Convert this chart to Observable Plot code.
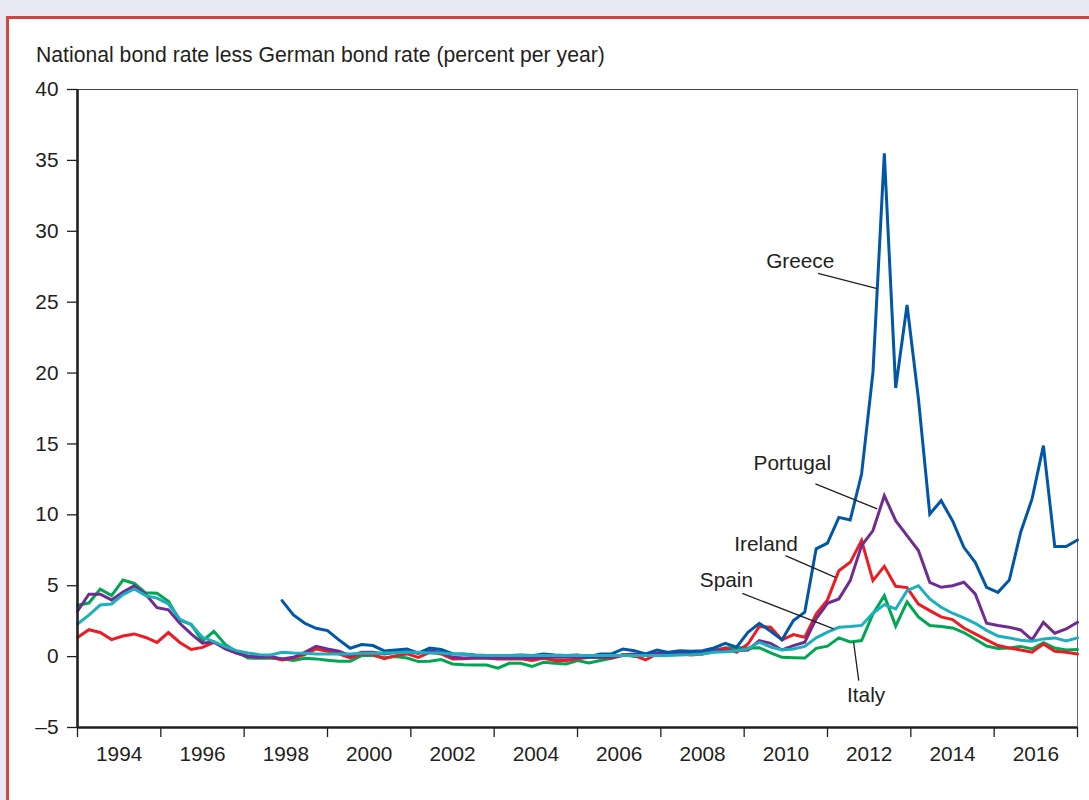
<!DOCTYPE html>
<html>
<head>
<meta charset="utf-8">
<script src="https://cdn.jsdelivr.net/npm/d3@7"></script>
<script src="https://cdn.jsdelivr.net/npm/@observablehq/plot@0.6"></script>
<style>
  html, body { margin: 0; padding: 0; background: #e8e8f2; width: 1089px; height: 800px; overflow: hidden; }
  #frame { position: absolute; left: 6px; top: 16px; width: 1200px; height: 900px; background: #fff; border: 3px solid #cf4541; box-sizing: border-box; }
  #title { position: absolute; left: 36px; top: 44px; font-family: 'Liberation Sans', Arial, sans-serif; font-size: 21.2px; line-height: 21px; color: #231f20; white-space: nowrap; }
  #chart { position: absolute; left: 0; top: 70px; }
</style>
</head>
<body>
<div id="frame"></div>
<div id="title">National bond rate less German bond rate (percent per year)</div>
<div id="chart"></div>
<script>
// Period index 0..88 (observations evenly spaced along the 1993–2017 axis)
const period = d3.range(89);

const greece = [
  null, null, null, null, null, null, null, null, null, null,
  null, null, null, null, null, null, null, null,
  3.95, 2.94, 2.35, 2.0, 1.84, 1.18, 0.59, 0.85, 0.78, 0.4,
  0.47, 0.54, 0.24, 0.61, 0.5, 0.2, 0.19, 0.12, 0.07, 0.07,
  0.07, 0.12, 0.07, 0.19, 0.12, 0.07, 0.12, 0.0, 0.19, 0.19,
  0.54, 0.42, 0.19, 0.47, 0.3, 0.42, 0.38, 0.42, 0.61, 0.94,
  0.66, 1.72, 2.35, 1.79, 1.18, 2.54, 3.13, 7.6, 8.0, 9.82,
  9.64, 12.88, 20.05, 35.5, 18.95, 24.8, 18.2, 10.06, 11.0, 9.59,
  7.71, 6.65, 4.89, 4.53, 5.4, 8.77, 11.12, 14.88, 7.76, 7.76,
  8.23
];
const ireland = [
  1.35, 1.9, 1.7, 1.2, 1.45, 1.6, 1.35, 1.0, 1.7, 1.0,
  0.5, 0.65, 1.0, 0.6, 0.25, 0.05, 0.0, -0.05, -0.23, -0.1,
  0.14, 0.54, 0.38, 0.2, -0.1, 0.17, 0.14, -0.14, 0.07, 0.19,
  -0.05, 0.3, 0.19, -0.16, -0.15, -0.1, -0.1, -0.16, -0.16, -0.16,
  -0.28, -0.12, -0.28, -0.28, -0.16, -0.05, -0.05, -0.1, 0.07, 0.07,
  -0.23, 0.19, 0.2, 0.2, 0.12, 0.19, 0.38, 0.61, 0.31, 0.89,
  2.12, 2.07, 1.18, 1.55, 1.36, 3.01, 4.0, 6.06, 6.65, 8.18,
  5.36, 6.37, 4.96, 4.87, 3.7, 3.24, 2.8, 2.61, 2.02, 1.6,
  1.18, 0.78, 0.61, 0.47, 0.31, 0.89, 0.38, 0.31, 0.19
];
const portugal = [
  3.2, 4.4, 4.4, 4.0, 4.55, 5.0, 4.4, 3.45, 3.3, 2.35,
  1.6, 0.95, 1.05, 0.55, 0.25, 0.0, -0.05, 0.0, -0.16, -0.05,
  0.3, 0.73, 0.54, 0.38, 0.07, 0.3, 0.3, 0.19, 0.3, 0.35,
  0.24, 0.42, 0.3, -0.05, -0.1, -0.08, -0.1, -0.1, -0.1, -0.1,
  -0.1, -0.05, -0.05, -0.05, -0.05, -0.05, -0.05, -0.02, 0.12, 0.19,
  0.14, 0.23, 0.24, 0.3, 0.26, 0.3, 0.47, 0.38, 0.42, 0.47,
  1.13, 0.94, 0.47, 0.78, 1.01, 2.66, 3.76, 4.07, 5.36, 7.83,
  8.89, 11.35, 9.59, 8.53, 7.48, 5.24, 4.89, 5.0, 5.24, 4.42,
  2.35, 2.19, 2.07, 1.88, 1.18, 2.42, 1.65, 1.95, 2.42
];
const spain = [
  2.3, 2.93, 3.64, 3.71, 4.37, 4.77, 4.3, 4.13, 3.71, 2.65,
  2.25, 1.36, 1.06, 0.7, 0.42, 0.26, 0.14, 0.12, 0.3, 0.25,
  0.23, 0.19, 0.19, 0.19, 0.19, 0.24, 0.24, 0.26, 0.28, 0.3,
  0.3, 0.26, 0.26, 0.19, 0.16, 0.1, 0.08, 0.07, 0.07, 0.07,
  0.07, 0.07, 0.07, 0.07, 0.07, 0.07, 0.07, 0.07, 0.07, 0.07,
  0.07, 0.07, 0.08, 0.12, 0.14, 0.19, 0.31, 0.35, 0.42, 0.55,
  1.01, 0.68, 0.47, 0.54, 0.72, 1.32, 1.72, 2.07, 2.12, 2.2,
  3.06, 3.67, 3.36, 4.65, 5.0, 4.07, 3.48, 3.06, 2.73, 2.35,
  1.85, 1.45, 1.32, 1.15, 1.08, 1.25, 1.32, 1.1, 1.32
];
const italy = [
  3.62, 3.78, 4.76, 4.3, 5.4, 5.16, 4.5, 4.47, 3.9, 2.56,
  2.28, 1.1, 1.78, 0.85, 0.35, -0.1, -0.12, -0.1, -0.16, -0.28,
  -0.12, -0.16, -0.25, -0.33, -0.33, 0.07, 0.07, -0.08, 0.0, -0.1,
  -0.35, -0.33, -0.21, -0.52, -0.58, -0.6, -0.59, -0.82, -0.47, -0.47,
  -0.7, -0.4, -0.47, -0.52, -0.28, -0.45, -0.28, -0.12, 0.14, 0.0,
  0.07, 0.19, 0.15, 0.17, 0.15, 0.2, 0.45, 0.6, 0.65, 0.61,
  0.63, 0.27, -0.05, -0.08, -0.1, 0.58, 0.74, 1.32, 1.04, 1.13,
  3.01, 4.3, 2.15, 3.86, 2.8, 2.19, 2.12, 2.02, 1.7, 1.22,
  0.75, 0.57, 0.61, 0.72, 0.54, 0.98, 0.6, 0.47, 0.5
];

const countries = ["Italy", "Ireland", "Portugal", "Greece", "Spain"];
const seriesValues = [italy, ireland, portugal, greece, spain];
const colors = ["#00a651", "#ed1c24", "#6f2c91", "#0057a8", "#1bb0bc"];

const tickYears = [1993, 1995, 1997, 1999, 2001, 2003, 2005, 2007, 2009, 2011, 2013, 2015, 2017];
const labelYears = [1994, 1996, 1998, 2000, 2002, 2004, 2006, 2008, 2010, 2012, 2014, 2016];
const yTicks = [-5, 0, 5, 10, 15, 20, 25, 30, 35, 40];

// Series labels and their leader lines (period index / percent)
const labelNames = ["Greece", "Portugal", "Ireland", "Spain", "Italy"];
const labelX = [63.6, 62.9, 60.6, 57.1, 69.4];
const labelY = [27.86, 13.65, 7.9, 5.36, -2.75];
const leadX1 = [65.17, 64.94, 62.3, 58.5, 68.75];
const leadY1 = [27.03, 12.18, 7.12, 4.46, -1.69];
const leadX2 = [70.37, 70.37, 66.7, 66.55, 68.3];
const leadY2 = [25.95, 10.42, 5.59, 1.95, 1.01];

// Build tables for Plot
const rows = [];
countries.forEach((c, k) => {
  period.forEach(p => rows.push({country: c, period: p, value: seriesValues[k][p]}));
});
const labels = labelNames.map((n, i) => ({name: n, x: labelX[i], y: labelY[i]}));
const leaders = labelNames.map((n, i) => ({x1: leadX1[i], y1: leadY1[i], x2: leadX2[i], y2: leadY2[i]}));

const yearToIndex = d3.scaleLinear([1993, 2017], [0, 88]);
const ink = "#231f20";

const chart = Plot.plot({
  width: 1089,
  height: 700,
  marginLeft: 77,
  marginRight: 12,
  marginTop: 19,
  marginBottom: 43,
  x: {domain: [0, 88], label: null},
  y: {domain: [-5, 40], label: null},
  color: {domain: countries, range: colors},
  style: {fontFamily: "'Liberation Sans', Arial, sans-serif", fontSize: "20.8px", color: ink, background: "transparent", overflow: "visible"},
  marks: [
    Plot.axisY(yTicks, {tickSize: 10, tickPadding: 9, stroke: ink, strokeWidth: 1.3, fill: ink,
      tickFormat: d => d < 0 ? "\u2013" + Math.abs(d) : String(d)}),
    Plot.axisX(tickYears.map(yearToIndex), {tickSize: 10, stroke: ink, strokeWidth: 1.3, tickFormat: () => ""}),
    Plot.axisX(labelYears.map(yearToIndex), {tickSize: 0, tickPadding: 19, fill: ink,
      tickFormat: d => String(Math.round(yearToIndex.invert(d)))}),
    Plot.ruleY([40], {stroke: "#444", strokeWidth: 1}),
    Plot.ruleX([88], {stroke: "#666", strokeWidth: 1}),
    Plot.line(rows, {x: "period", y: "value", z: "country", stroke: "country", strokeWidth: 3, strokeLinejoin: "miter", strokeMiterlimit: 3}),
    Plot.ruleX([0], {stroke: ink, strokeWidth: 2.6}),
    Plot.ruleY([-5], {stroke: ink, strokeWidth: 2.6}),
    Plot.link(leaders, {x1: "x1", y1: "y1", x2: "x2", y2: "y2", stroke: ink, strokeWidth: 1.3}),
    Plot.text(labels, {x: "x", y: "y", text: "name", fill: ink, fontSize: 20.8})
  ]
});
document.getElementById("chart").appendChild(chart);
</script>
</body>
</html>
